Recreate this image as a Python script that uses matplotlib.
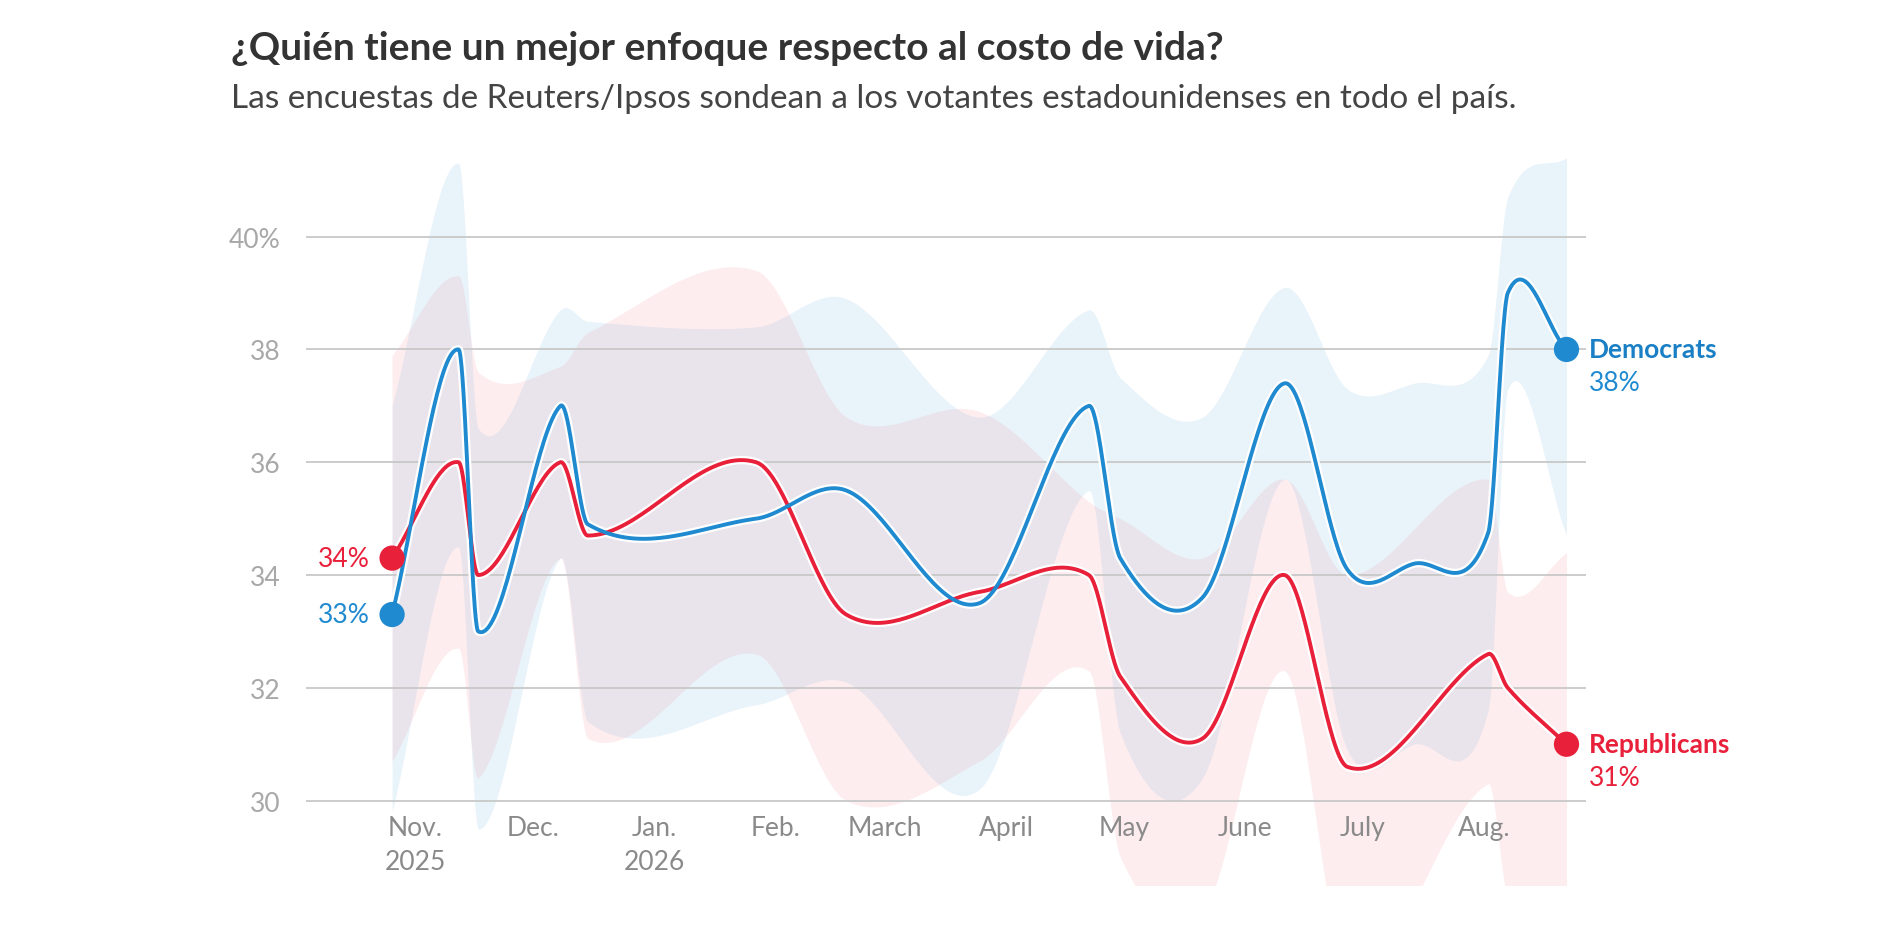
import matplotlib.pyplot as plt
import matplotlib.dates as mdates
import numpy as np
import pandas as pd

plt.rcParams['font.family'] = ['Lato', 'DejaVu Sans']

dem_dates = ['2025-10-26', '2025-11-12', '2025-11-17', '2025-12-08', '2025-12-15', '2026-01-27',
             '2026-02-19', '2026-03-25', '2026-04-22', '2026-04-30', '2026-05-21', '2026-06-11',
             '2026-06-27', '2026-07-14', '2026-08-02', '2026-08-07', '2026-08-22']
dem = [33.3, 38, 33, 37, 34.9, 35.0, 35.5, 33.5, 37, 34.3, 33.6, 37.4, 34.1, 34.2, 34.75, 39, 38]
dem_lo = [29.8, 34.5, 29.5, 34.3, 31.4, 31.7, 32.1, 30.2, 35.5, 31.2, 30.4, 35.7, 30.9, 31.0, 31.6, 37.3, 34.7]
dem_hi = [37, 41.3, 36.6, 38.7, 38.5, 38.4, 38.9, 36.8, 38.7, 37.5, 36.8, 39.1, 37.3, 37.4, 37.9, 40.7, 41.4]

rep_dates = ['2025-10-26', '2025-11-12', '2025-11-17', '2025-12-08', '2025-12-15', '2026-01-27',
             '2026-02-19', '2026-03-25', '2026-04-22', '2026-04-30', '2026-05-21', '2026-06-11',
             '2026-06-27', '2026-08-02', '2026-08-07', '2026-08-22']
rep = [34.3, 36, 34, 36, 34.7, 36, 33.3, 33.7, 34, 32.2, 31.1, 34, 30.6, 32.6, 32.0, 31]
rep_lo = [30.7, 32.7, 30.4, 34.3, 31.1, 32.6, 30.0, 30.7, 32.3, 29.0, 28.0, 32.3, 27.0, 30.3, 28.3, 28.0]
rep_hi = [37.9, 39.3, 37.6, 37.7, 38.3, 39.4, 36.8, 36.9, 35.3, 35.0, 34.3, 35.7, 34.0, 35.7, 33.7, 34.4]

months = ['Nov.\n2025', 'Dec.', 'Jan.\n2026', 'Feb.', 'March', 'April', 'May', 'June', 'July', 'Aug.']
month_pos = ['2025-11-01', '2025-12-01', '2026-01-01', '2026-02-01', '2026-03-01',
             '2026-04-01', '2026-05-01', '2026-06-01', '2026-07-01', '2026-08-01']

BLUE = '#1f8ad0'
RED = '#e8203a'


def smooth(x, y, n=40):
    # Catmull-Rom style Hermite curve through the points (for drawing only)
    x = np.asarray(x, float); y = np.asarray(y, float)
    m = np.zeros_like(y)
    for i in range(len(x)):
        a, b = max(i - 1, 0), min(i + 1, len(x) - 1)
        m[i] = (y[b] - y[a]) / (x[b] - x[a])
    xs, ys = [], []
    for i in range(len(x) - 1):
        h = x[i + 1] - x[i]
        t = np.linspace(0, 1, n, endpoint=False)
        h00 = 2*t**3 - 3*t**2 + 1; h10 = t**3 - 2*t**2 + t
        h01 = -2*t**3 + 3*t**2; h11 = t**3 - t**2
        xs.append(x[i] + t*h)
        ys.append(h00*y[i] + h10*h*m[i] + h01*y[i+1] + h11*h*m[i+1])
    xs.append([x[-1]]); ys.append([y[-1]])
    return np.concatenate(xs), np.concatenate(ys)


fig = plt.figure(figsize=(18.77, 9.28), dpi=100)
ax = fig.add_axes([0.163, 0.045, 0.682, 0.784])

for dates, lo, hi, fc in [(dem_dates, dem_lo, dem_hi, '#4a9fdc'),
                          (rep_dates, rep_lo, rep_hi, '#f07080')]:
    xd = mdates.date2num(pd.to_datetime(dates))
    sx, slo = smooth(xd, lo)
    _, shi = smooth(xd, hi)
    ax.fill_between(sx, slo, shi, color=fc, alpha=0.12, lw=0, zorder=1)

for dates, v, col in [(rep_dates, rep, RED), (dem_dates, dem, BLUE)]:
    xd = mdates.date2num(pd.to_datetime(dates))
    sx, sy = smooth(xd, v)
    ax.plot(sx, sy, color='white', lw=6, zorder=3, solid_capstyle='round')
    ax.plot(sx, sy, color=col, lw=2.8, zorder=4)
    ax.scatter([xd[0], xd[-1]], [v[0], v[-1]], s=330, color=col, zorder=5, edgecolor='none')

ax.set_xlim(mdates.date2num(pd.Timestamp('2025-10-04')), mdates.date2num(pd.Timestamp('2026-08-27')))
ax.set_ylim(28.5, 41.4)
ax.set_yticks([30, 32, 34, 36, 38, 40])
ax.set_yticklabels(['30', '32', '34', '36', '38', '40%'])
ax.set_xticks([])
for pos, lab in zip(month_pos, months):
    ax.text(mdates.date2num(pd.Timestamp(pos)), 29.75, lab, ha='center', va='top',
            fontsize=19, color='#8a8a8a', linespacing=1.45, zorder=2)
ax.grid(axis='y', color='#c8c8c8', lw=1.3, zorder=0)
ax.tick_params(axis='y', length=0, labelsize=19, labelcolor='#a8a8a8', pad=18)
for s in ax.spines.values():
    s.set_visible(False)
ax.set_facecolor('none')

x_end = mdates.date2num(pd.Timestamp(dem_dates[-1]))
x_start = mdates.date2num(pd.Timestamp(dem_dates[0]))
ax.annotate('Democrats', (x_end, 38), xytext=(16, 0), textcoords='offset points',
            color='#1a7fc4', fontsize=19, fontweight='bold', va='center')
ax.annotate('38%', (x_end, 38), xytext=(16, -24), textcoords='offset points',
            color=BLUE, fontsize=19, va='center')
ax.annotate('Republicans', (x_end, 31), xytext=(16, 0), textcoords='offset points',
            color=RED, fontsize=19, fontweight='bold', va='center')
ax.annotate('31%', (x_end, 31), xytext=(16, -24), textcoords='offset points',
            color=RED, fontsize=19, va='center')
ax.annotate('34%', (x_start, 34.3), xytext=(-16, 0), textcoords='offset points',
            color=RED, fontsize=19, va='center', ha='right')
ax.annotate('33%', (x_start, 33.3), xytext=(-16, 0), textcoords='offset points',
            color=BLUE, fontsize=19, va='center', ha='right')

fig.text(0.123, 0.948, '¿Quién tiene un mejor enfoque respecto al costo de vida?',
         fontsize=28, fontweight='bold', color='#333333', va='center')
fig.text(0.123, 0.893, 'Las encuestas de Reuters/Ipsos sondean a los votantes estadounidenses en todo el país.',
         fontsize=24, color='#444444', va='center')

fig.savefig('out.png', dpi=100)
